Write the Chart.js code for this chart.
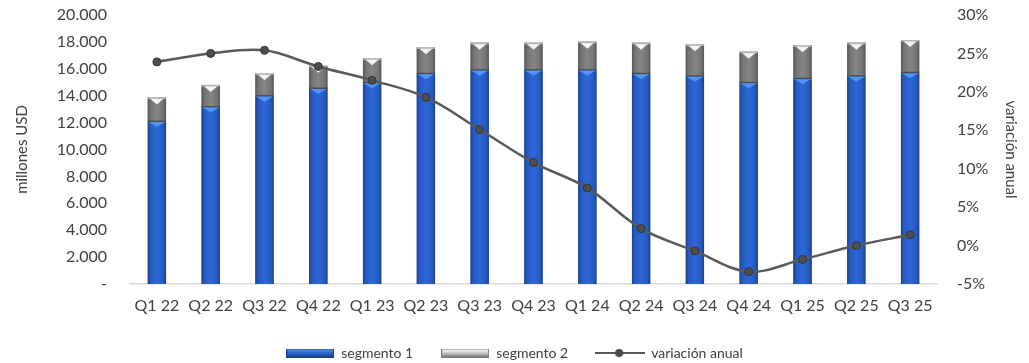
<!DOCTYPE html>
<html>
<head>
<meta charset="utf-8">
<script src="https://cdn.jsdelivr.net/npm/chart.js@4/dist/chart.umd.min.js"></script>
<style>
  html, body { margin: 0; padding: 0; background: #fff; }
  #wrap { width: 1029px; height: 363px; }
</style>
</head>
<body>
<div id="wrap"><canvas id="myChart"></canvas></div>
<script>
const labels = ["Q1 22", "Q2 22", "Q3 22", "Q4 22", "Q1 23", "Q2 23", "Q3 23", "Q4 23",
  "Q1 24", "Q2 24", "Q3 24", "Q4 24", "Q1 25", "Q2 25", "Q3 25"];
// millones USD
const segmento1 = [12040, 13120, 13930, 14500, 14920, 15590, 15860, 15860, 15860, 15590, 15410, 14920, 15220, 15410, 15670];
const segmento2 = [1830, 1680, 1730, 1730, 1860, 2010, 2080, 2080, 2160, 2350, 2410, 2350, 2530, 2530, 2470];
// variación anual, %
const variacion = [23.9, 25.0, 25.4, 23.3, 21.5, 19.3, 15.1, 10.8, 7.5, 2.2, -0.7, -3.4, -1.8, 0.0, 1.4];

const FONT = "Lato, 'Open Sans', sans-serif";
const TXT = "#404040";

function makeSwatch(kind) {
  const c = document.createElement("canvas");
  if (kind === "line") {
    c.width = 50; c.height = 12;
    const g = c.getContext("2d");
    g.strokeStyle = "#595959"; g.lineWidth = 2;
    g.beginPath(); g.moveTo(0, 6); g.lineTo(50, 6); g.stroke();
    g.fillStyle = "#4a4a4a";
    g.beginPath(); g.arc(24, 6, 4, 0, Math.PI * 2); g.fill();
    return c;
  }
  c.width = 48; c.height = 9;
  const g = c.getContext("2d");
  const grad = g.createLinearGradient(0, 0, 0, 9);
  if (kind === "blue") {
    grad.addColorStop(0, "#6fa8ff"); grad.addColorStop(0.35, "#2f6fe0");
    grad.addColorStop(1, "#1a3f8c");
  } else {
    grad.addColorStop(0, "#ffffff"); grad.addColorStop(0.4, "#d9d9d9");
    grad.addColorStop(1, "#6b6b6b");
  }
  g.fillStyle = grad; g.fillRect(0, 0, 48, 9);
  g.strokeStyle = kind === "blue" ? "#1d3f80" : "#7a7a7a";
  g.lineWidth = 1;
  g.strokeRect(0.5, 0.5, 47, 8);
  return c;
}
const swatches = [makeSwatch("blue"), makeSwatch("gray"), makeSwatch("line")];

// bevelled look of the bars, painted on the elements laid out by Chart.js
const bevelPlugin = {
  id: "bevel",
  afterDatasetDraw(chart, args) {
    const meta = args.meta;
    if (meta.type !== "bar") return;
    const ctx = chart.ctx;
    const blue = meta.index === 0;
    meta.data.forEach((bar) => {
      const p = bar.getProps(["x", "y", "base", "width"], true);
      const l = p.x - p.width / 2, r = p.x + p.width / 2;
      const top = Math.min(p.y, p.base), bot = Math.max(p.y, p.base);
      const grad = ctx.createLinearGradient(l, 0, r, 0);
      if (blue) {
        grad.addColorStop(0, "#1b3f85"); grad.addColorStop(0.15, "#2759c0");
        grad.addColorStop(0.5, "#2d68d8"); grad.addColorStop(0.85, "#2759c0");
        grad.addColorStop(1, "#1b3f85");
      } else {
        grad.addColorStop(0, "#555555"); grad.addColorStop(0.15, "#737373");
        grad.addColorStop(0.5, "#858585"); grad.addColorStop(0.85, "#737373");
        grad.addColorStop(1, "#555555");
      }
      ctx.save();
      ctx.fillStyle = grad;
      ctx.fillRect(l, top, r - l, bot - top);
      const h = blue ? 5 : 7;
      ctx.fillStyle = blue ? "#4f95f2" : "#f4f4f4";
      ctx.beginPath();
      ctx.moveTo(l + 1, top);
      ctx.lineTo(r - 1, top);
      ctx.lineTo(p.x, top + h);
      ctx.closePath();
      ctx.fill();
      if (!blue) {
        ctx.fillStyle = "#b5b5b5";
        ctx.fillRect(l, top, r - l, 1.5);
        ctx.fillStyle = "#4a4a4a";
        ctx.fillRect(l, bot - 1.5, r - l, 1.5);
      }
      ctx.restore();
    });
  }
};

new Chart(document.getElementById("myChart"), {
  data: {
    labels: labels,
    datasets: [
      {
        type: "bar",
        label: "segmento 1",
        data: segmento1,
        backgroundColor: "#2a62d0",
        yAxisID: "y",
        stack: "s",
        order: 1,
        categoryPercentage: 0.34,
        barPercentage: 1
      },
      {
        type: "bar",
        label: "segmento 2",
        data: segmento2,
        backgroundColor: "#7f7f7f",
        yAxisID: "y",
        stack: "s",
        order: 1,
        categoryPercentage: 0.34,
        barPercentage: 1
      },
      {
        type: "line",
        label: "variación anual",
        data: variacion,
        yAxisID: "y1",
        order: 0,
        borderColor: "#595959",
        borderWidth: 2.5,
        tension: 0.35,
        pointRadius: 4,
        pointBackgroundColor: "#4d4d4d",
        pointBorderColor: "#333333",
        pointBorderWidth: 1
      }
    ]
  },
  plugins: [bevelPlugin],
  options: {
    responsive: true,
    maintainAspectRatio: false,
    animation: false,
    layout: { autoPadding: false, padding: { top: 15, bottom: -7, left: 0, right: 0 } },
    plugins: {
      tooltip: { enabled: false },
      legend: {
        position: "bottom",
        labels: {
          usePointStyle: true,
          pointStyleWidth: 48,
          boxHeight: 9,
          padding: 28,
          color: TXT,
          font: { family: FONT, size: 14 },
          generateLabels(chart) {
            return chart.data.datasets.map((ds, i) => ({
              text: ds.label,
              pointStyle: swatches[i],
              fillStyle: "transparent",
              strokeStyle: "transparent",
              lineWidth: 0,
              fontColor: TXT,
              datasetIndex: i
            }));
          }
        }
      }
    },
    scales: {
      x: {
        stacked: true,
        grid: { display: false },
        border: { color: "#d9d9d9", width: 1.5 },
        ticks: { color: TXT, font: { family: FONT, size: 16 }, padding: 4 },
        afterFit(scale) { scale.height = 34; }
      },
      y: {
        stacked: true,
        position: "left",
        min: 0,
        max: 20000,
        grid: { display: false, tickLength: 23 },
        border: { display: false },
        ticks: {
          stepSize: 2000,
          color: TXT,
          font: { family: FONT, size: 16 },
          padding: 0,
          callback: (v) => (v === 0 ? "-" : (v / 1000).toFixed(3))
        },
        title: {
          display: true,
          text: "millones USD",
          color: TXT,
          font: { family: FONT, size: 15 },
          padding: { top: 13, bottom: 0 }
        },
        afterFit(scale) { scale.width = 130; }
      },
      y1: {
        position: "right",
        min: -5,
        max: 30,
        grid: { display: false, tickLength: 20 },
        border: { display: false },
        ticks: {
          stepSize: 5,
          color: TXT,
          font: { family: FONT, size: 16 },
          padding: 0,
          callback: (v) => v + "%"
        },
        title: {
          display: true,
          text: "variación anual",
          color: TXT,
          font: { family: FONT, size: 15 },
          padding: { top: 9, bottom: 0 }
        },
        afterFit(scale) { scale.width = 92; }
      }
    }
  }
});
</script>
</body>
</html>
